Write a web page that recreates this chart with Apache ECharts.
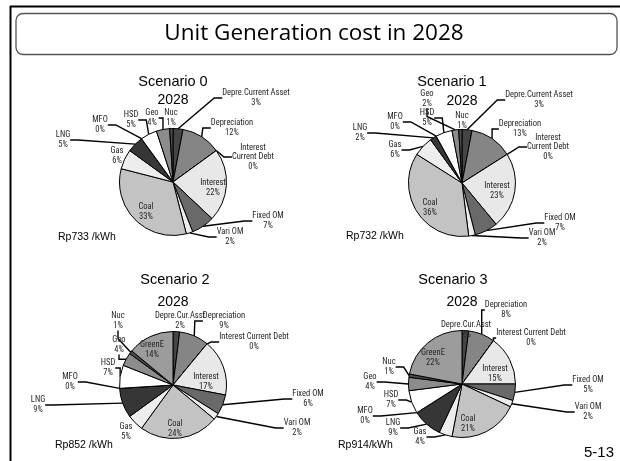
<!DOCTYPE html>
<html>
<head>
<meta charset="utf-8">
<script src="https://cdn.jsdelivr.net/npm/echarts@6/dist/echarts.min.js"></script>
<style>
  html, body { margin: 0; padding: 0; background: #ffffff; }
  #chart { width: 620px; height: 461px; }
</style>
</head>
<body>
<div id="chart"></div>
<script>
// Cost components, clockwise from 12 o'clock
const itemsS01 = ['Depre.Current Asset', 'Depreciation', 'Interest\nCurrent Debt', 'Interest',
  'Fixed OM', 'Vari OM', 'Coal', 'Gas', 'LNG', 'MFO', 'HSD', 'Geo', 'Nuc'];
const itemsS23 = ['Depre.Cur.Asst', 'Depreciation', 'Interest Current Debt', 'Interest',
  'Fixed OM', 'Vari OM', 'Coal', 'Gas', 'LNG', 'MFO', 'HSD', 'Geo', 'Nuc', 'GreenE'];

// Share of unit generation cost (%)
const scenario0 = [3, 12, 0, 22, 7, 2, 33, 6, 5, 0, 5, 4, 1];
const scenario1 = [3, 13, 0, 23, 7, 2, 36, 6, 2, 0, 5, 2, 1];
const scenario2 = [2, 9, 0, 17, 6, 2, 24, 5, 9, 0, 7, 4, 1, 14];
const scenario3 = [2, 8, 0, 15, 5, 2, 21, 4, 9, 0, 7, 4, 1, 22];

const scenarioNames = ['Scenario 0', 'Scenario 1', 'Scenario 2', 'Scenario 3'];
const year = '2028';
const unitCostText = ['Rp733 /kWh', 'Rp732 /kWh', 'Rp852 /kWh', 'Rp914/kWh'];

// Fill shade per cost component
const shades = {
  'Depre.Current Asset': '#454545', 'Depre.Cur.Asst': '#454545', 'Depreciation': '#858585',
  'Interest\nCurrent Debt': '#555555', 'Interest Current Debt': '#555555', 'Interest': '#e8e8e8',
  'Fixed OM': '#696969', 'Vari OM': '#ececec', 'Coal': '#c3c3c3', 'Gas': '#ededed',
  'LNG': '#363636', 'MFO': '#444444', 'HSD': '#ffffff', 'Geo': '#8c8c8c', 'Nuc': '#4a4a4a',
  'GreenE': '#9c9c9c'
};

// Layout: pie centres (px) and label offsets from centre (px)
const pieCenters = [[173, 182], [462, 183], [173, 385], [462, 384]];
const pieRadius = 53.5;
const labelOffsets = [
  [[83, -84], [59, -54], [80, -25], [40, 6], [95, 39], [57, 55], [-27, 30], [-56, -26],
   [-110, -42], [-73, -57], [-42, -62], [-21, -64], [-2, -64]],
  [[77, -83], [58, -54], [86, -36], [35, 8], [98, 40], [80, 55], [-32, 25], [-67, -33],
   [-102, -50], [-67, -61], [-35, -65], [-35, -84], [0, -62]],
  [[7, -64], [51, -64], [81, -43], [33, -3], [135, 14], [124, 43], [2, 44], [-47, 47],
   [-135, 20], [-103, -3], [-65, -17], [-54, -40], [-55, -64], [-21, -35]],
  [[4, -54], [44, -74], [69, -46], [33, -10], [126, 1], [126, 28], [6, 40], [-42, 53],
   [-69, 44], [-97, 32], [-71, 16], [-92, -2], [-73, -17], [-29, -26]]
];
// Labels drawn without a leader line
const noLine = [
  ['Interest', 'Coal', 'Gas', 'Nuc'],
  ['Interest', 'Coal', 'Nuc'],
  ['Interest', 'Coal', 'GreenE', 'Depre.Cur.Asst', 'Gas'],
  ['Interest', 'Coal', 'GreenE', 'Depre.Cur.Asst']
];

const allValues = [scenario0, scenario1, scenario2, scenario3];
const allItems = [itemsS01, itemsS01, itemsS23, itemsS23];

const labelFont = '"Liberation Sans Narrow", "Roboto Condensed", Roboto, sans-serif';

const chart = echarts.init(document.getElementById('chart'), null, { renderer: 'canvas' });

const series = allValues.map(function (vals, s) {
  const names = allItems[s];
  return {
    type: 'pie',
    center: pieCenters[s],
    radius: pieRadius,
    startAngle: 90,
    clockwise: true,
    avoidLabelOverlap: false,
    silent: true,
    animation: false,
    minShowLabelAngle: -1,
    itemStyle: { borderColor: '#000000', borderWidth: 1 },
    label: {
      show: true,
      position: 'outside',
      fontFamily: labelFont,
      fontSize: 8.5,
      lineHeight: 9.5,
      color: '#262626',
      align: 'center',
      formatter: function (p) { return p.name + '\n' + p.value + '%'; }
    },
    labelLine: { show: true, length: 8, length2: 8, lineStyle: { color: '#000000', width: 1.4 } },
    labelLayout: function (p) {
      const off = labelOffsets[s][p.dataIndex];
      return {
        x: pieCenters[s][0] + off[0],
        y: pieCenters[s][1] + off[1],
        align: 'center',
        verticalAlign: 'middle'
      };
    },
    data: vals.map(function (v, i) {
      const n = names[i];
      const d = { name: n, value: v, itemStyle: { color: shades[n] } };
      if (noLine[s].indexOf(n) >= 0) d.labelLine = { show: false };
      return d;
    })
  };
});

const textEls = [];
const titleY = [[82, 100], [82, 101], [280, 302], [280, 302]];
const titleX = [[173, 173], [452, 462], [175, 173], [453, 462]];
const unitPos = [[58, 237], [346, 236], [55, 445], [338, 445]];
for (let s = 0; s < 4; s++) {
  textEls.push({ type: 'text', x: titleX[s][0], y: titleY[s][0], silent: true,
    style: { text: scenarioNames[s], font: '14.5px "Liberation Sans"', fill: '#000', align: 'center', verticalAlign: 'middle' } });
  textEls.push({ type: 'text', x: titleX[s][1], y: titleY[s][1], silent: true,
    style: { text: year, font: '14px "Liberation Sans"', fill: '#000', align: 'center', verticalAlign: 'middle' } });
  textEls.push({ type: 'text', x: unitPos[s][0], y: unitPos[s][1], silent: true,
    style: { text: unitCostText[s], font: '10.5px "Liberation Sans"', fill: '#000', align: 'left', verticalAlign: 'middle' } });
}

const option = {
  backgroundColor: '#ffffff',
  animation: false,
  graphic: [
    // slide frame
    { type: 'line', silent: true, shape: { x1: 10, y1: 6.5, x2: 620, y2: 6.5 }, style: { stroke: '#000', lineWidth: 2 } },
    { type: 'line', silent: true, shape: { x1: 10.5, y1: 6, x2: 10.5, y2: 461 }, style: { stroke: '#000', lineWidth: 2 } },
    // heading box
    { type: 'rect', silent: true, shape: { x: 16, y: 13.5, width: 601, height: 41, r: 7 },
      style: { fill: '#ffffff', stroke: '#555555', lineWidth: 1.3 } },
    { type: 'text', silent: true, x: 314, y: 34,
      style: { text: 'Unit Generation cost in 2028', font: '22.5px "Open Sans"', fill: '#000', align: 'center', verticalAlign: 'middle' } },
    { type: 'text', silent: true, x: 599, y: 453,
      style: { text: '5-13', font: '15px "Liberation Sans"', fill: '#000', align: 'center', verticalAlign: 'middle' } }
  ].concat(textEls),
  series: series
};

chart.setOption(option);
</script>
</body>
</html>
